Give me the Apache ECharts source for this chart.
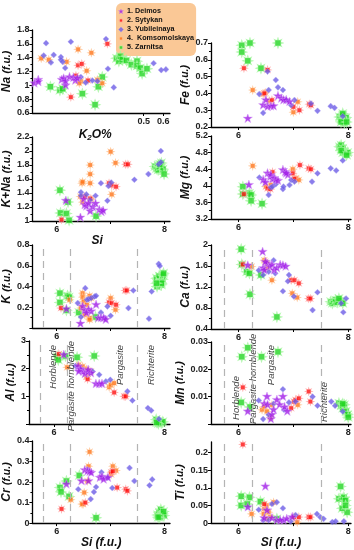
<!DOCTYPE html>
<html><head><meta charset="utf-8">
<script src="https://cdn.jsdelivr.net/npm/echarts@6/dist/echarts.min.js"></script>
<style>html,body{margin:0;padding:0;background:#fff}#c{width:354px;height:550px}</style>
</head><body><div id="c"></div>
<script>
// ---------------- DATA ----------------
const siteNames = ['1. Deimos', '2. Sytykan', '3. Yubileinaya', '4.  Komsomolskaya', '5. Zarnitsa'];
const boundaries = [5.75, 6.25, 7.5];
const classNames = ['Horblende', 'Pargasite hornblende', 'Pargasite', 'Richterite'];
const alLabelPos = [[5.99, 2.86], [6.32, 3.0], [7.2, 2.86], [7.76, 2.86]];
const mnLabelPos = [[5.96, 0.0015], [6.28, 0.0], [6.6, 0.0142], [7.57, 0.0007]];
const k2oLabels = [0.5, 0.6];
const siLabels = [6, 8];
const siTicks = [6, 7, 8];
const tiLabels = [0, 0.05, 0.1, 0.15, 0.2];

// Na vs K2O%
const naDei = [[-0.06,1.03],[-0.04,1.08],[-0.04,1.05],[0.08,1.08],[0.09,1.10],[0.10,1.00],[0.10,1.06],[0.12,1.12],[0.14,1.11],[0.15,1.07],[0.16,1.10]];
const naSyt = [[0.127,0.83],[0.153,1.14],[0.164,1.29],[0.183,1.31],[0.215,1.07],[0.314,1.6]];
const naYub = [[0.0,1.61],[-0.012,1.43],[0.025,1.33],[0.039,1.44],[0.076,1.41],[0.076,1.37],[0.085,1.34],[0.098,1.25],[0.127,1.63],[0.178,1.12],[0.203,1.04],[0.237,1.07],[0.263,1.06],[0.307,1.67],[0.317,1.24],[0.347,0.97],[0.551,1.32],[0.590,1.22],[0.614,1.23]];
const naKom = [[-0.025,1.39],[0.014,1.37],[0.105,1.34],[0.164,1.52],[0.178,1.06],[0.208,1.21],[0.232,1.47],[0.263,1.08],[0.288,1.03],[0.17,1.03]];
const naZar = [[0.022,0.98],[0.071,0.93],[0.085,0.95],[0.186,0.88],[0.251,0.72],[0.268,0.98],[0.288,1.12],[0.361,1.39],[0.373,1.35],[0.381,1.42],[0.390,1.37],[0.412,1.36],[0.437,1.30],[0.466,1.35],[0.466,1.28],[0.483,1.25],[0.492,1.17],[0.517,1.24]];

// Fe vs Si
const feDei = [[6.17,0.25],[6.45,0.33],[6.50,0.36],[6.53,0.32],[6.59,0.324],[6.64,0.324],[6.72,0.384],[6.78,0.37],[6.82,0.36],[6.87,0.36],[6.93,0.35]];
const feSyt = [[6.10,0.55],[6.53,0.54],[6.47,0.40],[6.61,0.36],[7.00,0.32],[7.11,0.30],[7.29,0.336],[7.32,0.33]];
const feYub = [[6.38,0.396],[6.53,0.53],[6.55,0.42],[6.45,0.284],[6.68,0.48],[6.72,0.436],[6.81,0.42],[6.87,0.36],[6.96,0.33],[7.02,0.36],[7.32,0.34],[7.44,0.296],[7.68,0.324],[7.75,0.314],[7.90,0.264]];
const feKom = [[6.26,0.42],[6.45,0.396],[6.49,0.404],[6.56,0.356],[7.00,0.288],[7.08,0.35]];
const feZar = [[6.06,0.686],[6.06,0.646],[6.21,0.70],[6.17,0.594],[6.41,0.55],[6.72,0.70],[7.84,0.26],[7.87,0.244],[7.90,0.27],[7.93,0.24],[7.96,0.256],[7.93,0.224],[7.87,0.23],[7.97,0.23],[7.90,0.28]];

// K+Na vs Si
const knaDei = [[6.17,1.29],[6.44,1.05],[6.50,1.31],[6.52,1.23],[6.55,1.21],[6.59,1.25],[6.62,1.14],[6.67,1.20],[6.72,1.25],[6.79,1.16],[6.83,1.13],[6.86,1.15]];
const knaSyt = [[6.09,1.02],[6.52,1.35],[6.62,1.32],[6.97,1.54],[7.02,1.51],[7.10,1.49],[7.28,1.81],[7.32,1.81]];
const knaYub = [[6.45,1.41],[6.45,1.36],[6.55,1.38],[6.62,1.30],[6.72,1.36],[6.82,1.54],[6.94,1.29],[6.96,1.50],[7.01,1.55],[7.44,1.59],[7.70,1.67],[7.89,1.81],[7.93,2.00],[7.93,1.84]];
const knaKom = [[6.44,1.35],[6.47,1.54],[6.48,1.56],[6.62,1.80],[6.62,1.67],[6.62,1.54],[6.64,1.31],[7.00,1.99],[7.02,1.38],[7.09,1.83],[6.48,1.27]];
const knaZar = [[6.06,1.44],[6.07,1.115],[6.18,1.106],[6.21,1.27],[6.23,1.01],[6.73,1.07],[7.82,1.78],[7.85,1.75],[7.88,1.79],[7.88,1.73],[7.91,1.77],[7.94,1.83],[7.97,1.74],[7.99,1.67],[7.91,1.81]];

// Mg vs Si
const mgDei = [[6.19,4.02],[6.45,4.14],[6.49,4.08],[6.53,4.30],[6.58,4.22],[6.59,4.26],[6.62,4.16],[6.65,4.18],[6.68,4.14],[6.72,4.12],[6.81,4.38],[6.85,4.33],[6.90,4.26],[6.87,4.30]];
const mgSyt = [[6.10,3.80],[6.62,4.33],[6.53,3.94],[6.58,3.92],[6.99,4.30],[7.02,4.17],[7.12,4.50],[7.28,4.42],[7.32,4.40]];
const mgYub = [[6.38,4.20],[6.55,3.78],[6.59,3.96],[6.62,3.98],[6.68,4.04],[6.81,3.92],[6.82,3.98],[6.93,4.02],[6.96,4.14],[7.02,4.10],[7.34,4.10],[7.44,4.30],[7.68,4.42],[7.78,4.37],[7.90,4.61]];
const mgKom = [[6.26,4.48],[6.50,3.98],[6.59,4.02],[6.99,4.40],[7.05,4.18],[7.10,4.14]];
const mgZar = [[6.08,3.98],[6.08,3.80],[6.20,3.82],[6.23,3.78],[6.23,3.64],[6.43,3.57],[7.84,4.94],[7.87,4.98],[7.90,4.90],[7.93,4.82],[7.96,4.77],[7.99,4.80],[7.90,4.80],[7.87,4.85],[7.97,4.74]];

// K vs Si
const kDei = [[6.18,0.182],[6.44,0.042],[6.48,0.208],[6.52,0.17],[6.59,0.176],[6.64,0.16],[6.73,0.224],[6.77,0.096],[6.82,0.096],[6.87,0.096],[6.91,0.08],[6.55,0.144]];
const kSyt = [[6.08,0.192],[6.97,0.246],[7.02,0.240],[7.10,0.224],[7.27,0.362],[7.30,0.362]];
const kYub = [[6.39,0.24],[6.45,0.106],[6.53,0.384],[6.56,0.272],[6.59,0.278],[6.64,0.288],[6.70,0.304],[6.73,0.31],[6.82,0.15],[6.94,0.208],[7.00,0.118],[6.89,0.096],[7.33,0.192],[7.42,0.362],[7.71,0.09],[7.76,0.352],[7.89,0.618],[7.91,0.598]];
const kKom = [[6.24,0.272],[6.48,0.336],[6.48,0.298],[6.50,0.256],[6.52,0.128],[6.61,0.096],[6.61,0.08],[6.56,0.224],[6.61,0.31],[6.64,0.288],[7.00,0.288],[7.09,0.176],[6.45,0.192]];
const kZar = [[6.06,0.336],[6.06,0.246],[6.20,0.310],[6.23,0.298],[6.18,0.170],[6.41,0.150],[6.72,0.106],[7.85,0.48],[7.86,0.40],[7.90,0.50],[7.91,0.448],[7.94,0.416],[7.96,0.47],[7.97,0.512],[7.98,0.528],[7.94,0.432],[7.85,0.432]];

// Ca vs Si
const caDei = [[6.44,1.87],[6.17,1.61],[6.45,1.56],[6.47,1.52],[6.52,1.65],[6.57,1.59],[6.61,1.62],[6.65,1.52],[6.70,1.56],[6.76,1.62],[6.81,1.61],[6.86,1.59],[6.49,1.68]];
const caSyt = [[6.08,1.63],[6.96,1.33],[7.02,1.33],[7.10,1.27],[7.28,0.98],[7.31,0.98]];
const caYub = [[6.37,1.52],[6.45,1.43],[6.55,1.49],[6.64,1.71],[6.67,1.46],[6.81,1.12],[6.92,1.43],[6.90,1.31],[7.01,1.02],[7.35,0.76],[7.44,1.10],[7.87,0.89],[7.91,0.72],[7.96,0.98]];
const caKom = [[6.24,1.59],[6.47,1.71],[6.49,1.68],[6.52,1.65],[6.61,1.33],[6.98,1.08],[7.07,1.00],[6.53,1.56]];
const caZar = [[6.05,1.92],[6.06,1.63],[6.15,1.49],[6.20,1.46],[6.21,1.06],[6.41,1.43],[6.70,0.63],[7.68,0.92],[7.71,0.89],[7.74,0.92],[7.77,0.95],[7.80,0.91],[7.87,0.94],[7.90,0.89],[7.83,0.98]];

// Al vs Si
const alDei = [[6.18,2.50],[6.44,2.08],[6.48,1.98],[6.53,1.90],[6.56,1.81],[6.61,1.86],[6.67,1.84],[6.76,1.45],[6.82,1.45],[6.87,1.45],[6.45,1.90],[6.62,1.96]];
const alSyt = [[6.09,2.53],[6.61,1.62],[7.09,1.14],[7.27,1.0],[7.30,1.0]];
const alYub = [[6.39,2.10],[6.50,1.96],[6.70,1.90],[6.82,1.78],[6.94,1.54],[7.02,1.60],[7.33,1.18],[7.42,0.85],[7.70,0.58],[7.76,0.49],[7.90,0.18]];
const alKom = [[6.24,2.05],[6.45,2.14],[6.52,2.08],[6.59,1.98],[6.67,1.90],[7.00,1.33],[7.03,1.42],[7.09,1.48],[6.59,1.72]];
const alZar = [[6.06,2.44],[6.08,2.32],[6.21,2.46],[6.42,2.41],[6.73,2.46],[7.85,0.16],[7.88,0.06],[7.91,0.10],[7.94,0.04],[7.97,0.08],[7.89,0.02],[7.86,0.06]];

// Mn vs Si
const mnDei = [[6.17,0.0046],[6.47,0.0074],[6.52,0.010],[6.53,0.007],[6.59,0.0018],[6.61,0.0034],[6.70,0.0088],[6.75,0.007],[6.81,0.010],[6.84,0.0062],[6.89,0.0046],[6.64,0.0052]];
const mnSyt = [[6.08,0.0134],[7.01,0.0082],[7.04,0.0088],[7.10,0.0094],[7.28,0.0119],[7.31,0.0082],[6.96,0.0058]];
const mnYub = [[6.37,0.0086],[6.45,0.0018],[6.55,0.0034],[6.64,0.0074],[6.81,0.0127],[6.83,0.0052],[6.92,0.0079],[7.04,0.0082],[7.35,0.010],[7.44,0.0067],[7.69,0.0082],[7.76,0.0067],[7.90,0.0046]];
const mnKom = [[6.43,0.0052],[6.47,0.0064],[6.52,0.0046],[6.61,0.007],[7.08,0.007],[6.58,0.0025]];
const mnZar = [[6.17,0.0279],[6.06,0.0246],[6.42,0.0246],[6.72,0.0264],[6.05,0.0079],[6.21,0.0062],[7.83,0.0076],[7.87,0.0067],[7.90,0.0058],[7.93,0.007],[7.96,0.0046],[7.99,0.0034],[8.0,0.0025],[7.90,0.0074]];

// Cr vs Si
const crDei = [[6.18,0.189],[6.46,0.205],[6.52,0.258],[6.57,0.253],[6.61,0.25],[6.64,0.245],[6.59,0.205],[6.80,0.221],[6.84,0.226],[6.87,0.213],[6.95,0.221]];
const crSyt = [[6.09,0.069],[6.53,0.10],[7.01,0.248],[7.04,0.253],[7.12,0.173],[7.28,0.165],[7.31,0.157]];
const crYub = [[6.40,0.165],[6.57,0.261],[6.63,0.117],[6.69,0.152],[6.73,0.176],[6.83,0.248],[6.94,0.221],[7.03,0.171],[7.35,0.269],[7.44,0.205],[7.72,0.184],[7.77,0.213]];
const crKom = [[6.26,0.114],[6.49,0.093],[6.51,0.149],[6.59,0.277],[6.61,0.347],[6.57,0.205],[6.47,0.093],[7.01,0.237],[7.04,0.277],[7.10,0.256]];
const crZar = [[6.06,0.173],[6.08,0.152],[6.18,0.205],[6.23,0.13],[6.42,0.232],[6.73,0.026],[7.87,0.04],[7.90,0.053],[7.93,0.066],[7.96,0.045],[7.99,0.037],[7.91,0.029],[7.98,0.056],[7.88,0.029]];

// Ti vs Si
const tiDei = [[6.17,0.045],[6.49,0.104],[6.52,0.036],[6.61,0.014],[6.70,0.008],[6.82,0.008],[6.88,0.012],[6.98,0.017],[6.47,0.014],[6.76,0.008]];
const tiSyt = [[6.08,0.223],[6.47,0.054],[7.01,0.017],[7.10,0.017],[7.28,0.017],[7.31,0.017]];
const tiYub = [[6.37,0.038],[6.45,0.008],[6.55,0.008],[6.70,0.059],[6.81,0.042],[6.82,0.008],[6.95,0.005],[7.04,0.023],[7.43,0.026],[7.49,0.017],[7.55,0.012],[7.71,0.003],[7.77,0.005],[7.92,0.005],[6.61,0.054]];
const tiKom = [[6.24,0.026],[6.47,0.04],[6.46,0.026],[6.51,0.05],[6.55,0.031],[6.58,0.017],[6.64,0.059],[6.52,0.012],[7.07,0.003]];
const tiZar = [[6.05,0.076],[6.05,0.05],[6.20,0.073],[6.16,0.054],[6.40,0.061],[6.70,0.012],[7.86,0.104],[7.83,0.069],[7.89,0.069],[7.92,0.073],[7.95,0.064],[7.89,0.042],[7.98,0.031],[7.95,0.05]];

// ---------------- BUILD ----------------
// per panel: [Deimos, Sytykan, Yubileinaya, Komsomolskaya, Zarnitsa]
const panelData = [
  [naDei, naSyt, naYub, naKom, naZar],
  [feDei, feSyt, feYub, feKom, feZar],
  [knaDei, knaSyt, knaYub, knaKom, knaZar],
  [mgDei, mgSyt, mgYub, mgKom, mgZar],
  [kDei, kSyt, kYub, kKom, kZar],
  [caDei, caSyt, caYub, caKom, caZar],
  [alDei, alSyt, alYub, alKom, alZar],
  [mnDei, mnSyt, mnYub, mnKom, mnZar],
  [crDei, crSyt, crYub, crKom, crZar],
  [tiDei, tiSyt, tiYub, tiKom, tiZar]
];

function starPts(n, ro, ri, c) {
  const p = [];
  for (let i = 0; i < 2 * n; i++) {
    const r = i % 2 ? ri : ro;
    const a = Math.PI * i / n - Math.PI / 2;
    p.push((c + r * Math.cos(a)).toFixed(2) + ',' + (c + r * Math.sin(a)).toFixed(2));
  }
  return p.join(' ');
}
function svgUri(inner) {
  return 'image://data:image/svg+xml;charset=utf-8,' + encodeURIComponent(
    '<svg xmlns="http://www.w3.org/2000/svg" width="24" height="24" viewBox="0 0 24 24">' + inner + '</svg>');
}
const symDei = svgUri('<polygon points="' + starPts(5, 12, 4.8, 12) + '" fill="#a11de8" stroke="#d6a2f7" stroke-width="1.2"/>');
const symSyt = svgUri('<polygon points="' + starPts(8, 12, 5.5, 12) + '" fill="#ff9d9d"/><rect x="7.5" y="7.5" width="9" height="9" fill="#ff0f0f"/>');
const symYub = svgUri('<polygon points="12,1.5 22.5,12 12,22.5 1.5,12" fill="#6d5de6" stroke="#aea6f4" stroke-width="1.5"/>');
const symKom = svgUri('<polygon points="' + starPts(8, 12, 5.5, 12) + '" fill="#ffbe8a"/><rect x="7.5" y="7.5" width="9" height="9" fill="#ff7418"/>');
const symZar = svgUri('<polygon points="' + starPts(8, 12, 6, 12) + '" fill="#a5f5a0"/><rect x="7" y="7" width="10" height="10" fill="#22d622"/>');
const symbols = [symDei, symSyt, symYub, symKom, symZar];
const sizes = [10, 10, 7, 10, 13];
const drawOrder = [4, 3, 1, 2, 0];

const FONT = 'Liberation Sans, Arial, sans-serif';
const grids = [
  {left: 29, top: 30, width: 141, height: 83},
  {left: 211, top: 43, width: 140, height: 84},
  {left: 29, top: 137, width: 141, height: 84},
  {left: 211, top: 136, width: 140, height: 83},
  {left: 29, top: 245, width: 141, height: 83},
  {left: 211, top: 245, width: 140, height: 84},
  {left: 29, top: 341, width: 141, height: 83},
  {left: 211, top: 342, width: 140, height: 82},
  {left: 29, top: 441, width: 141, height: 83},
  {left: 211, top: 442, width: 140, height: 82}
];
const yCfg = [
  {min: 0.6, max: 1.8, interval: 0.2, name: 'Na', gap: 15},
  {min: 0.2, max: 0.7, interval: 0.1, name: 'Fe', gap: 13},
  {min: 1, max: 2.2, interval: 0.2, name: 'K+Na', gap: 14},
  {min: 3.2, max: 5.2, interval: 0.4, name: 'Mg', gap: 16},
  {min: 0, max: 0.8, interval: 0.2, name: 'K', gap: 12, hideMin: true},
  {min: 0.4, max: 2, interval: 0.4, name: 'Ca', gap: 17},
  {min: 0, max: 3, interval: 1, name: 'Al', gap: 11, hideMin: true},
  {min: 0, max: 0.03, interval: 0.01, name: 'Mn', gap: 18, hideMin: true},
  {min: 0, max: 0.4, interval: 0.1, name: 'Cr', gap: 13},
  {min: 0, max: 0.23, custom: tiLabels, name: 'Ti', gap: 18}
];
const axisLineStyle = {show: true, onZero: false, lineStyle: {color: '#000', width: 1.3}};
const labelStyle = {fontSize: 9, fontWeight: 'bold', color: '#222', fontFamily: FONT};
const nameRich = {
  a: {fontSize: 12, fontWeight: 'bold', fontStyle: 'italic', fontFamily: FONT, color: '#111'},
  b: {fontSize: 10.5, fontWeight: 'bold', fontStyle: 'italic', fontFamily: FONT, color: '#111'},
  s: {fontSize: 8, fontWeight: 'bold', fontStyle: 'italic', fontFamily: FONT, color: '#111', verticalAlign: 'bottom', padding: [6, 0, 0, 0]}
};

const xAxes = grids.map((g, i) => {
  const left = i % 2 === 0;
  const ax = {
    type: 'value', gridIndex: i,
    min: i === 0 ? -0.07 : (left ? 5.55 : 5.5),
    max: i === 0 ? 0.635 : (left ? 8.1 : 8.05),
    axisLine: axisLineStyle,
    splitLine: {show: false},
    axisTick: {show: true, length: 3, lineStyle: {color: '#000', width: 1}, customValues: i === 0 ? k2oLabels : siTicks},
    axisLabel: Object.assign({margin: 4, customValues: i === 0 ? k2oLabels : siLabels}, labelStyle),
    nameLocation: 'middle'
  };
  if (i === 0) { ax.name = '{a|K}{s|2}{a|O%}'; ax.nameGap = 15; ax.nameTextStyle = {rich: nameRich, padding: [0, 12, 0, 0]}; }
  if (i === 2) { ax.name = '{a|Si}'; ax.nameGap = 12; ax.nameTextStyle = {rich: nameRich, padding: [0, 8, 0, 0]}; }
  if (i === 8 || i === 9) { ax.name = '{a|Si (f.u.)}'; ax.nameGap = 13; ax.nameTextStyle = {rich: nameRich}; }
  return ax;
});
const yAxes = yCfg.map((c, i) => {
  const ax = {
    type: 'value', gridIndex: i, min: c.min, max: c.max,
    axisLine: axisLineStyle,
    splitLine: {show: false},
    axisTick: {show: true, length: 3, lineStyle: {color: '#000', width: 1}},
    axisLabel: Object.assign({margin: 3, showMinLabel: !c.hideMin}, labelStyle),
    name: '{a|' + c.name + '} {b|(f.u.)}', nameLocation: 'middle', nameGap: c.gap,
    nameTextStyle: {rich: nameRich}
  };
  if (c.custom) {
    ax.axisLabel.customValues = c.custom;
    ax.axisTick.customValues = c.custom;
  } else {
    ax.interval = c.interval;
    ax.minorTick = {show: true, splitNumber: 2, length: 2, lineStyle: {color: '#000'}};
  }
  return ax;
});

const series = [];
panelData.forEach((sets, p) => {
  drawOrder.forEach((s, k) => {
    const ser = {
      type: 'scatter', name: siteNames[s], xAxisIndex: p, yAxisIndex: p,
      data: sets[s], symbol: symbols[s], symbolSize: sizes[s],
      emphasis: {disabled: true}, silent: true
    };
    if (k === 0 && p >= 4) {
      ser.markLine = {
        silent: true, symbol: 'none', label: {show: false},
        lineStyle: {type: [7, 5], color: '#b4b4b4', width: 1.2},
        data: boundaries.map(v => ({xAxis: v}))
      };
    }
    series.push(ser);
  });
});
function classSeries(p, pos, align) {
  return {
    type: 'scatter', xAxisIndex: p, yAxisIndex: p, clip: false, silent: true,
    symbolSize: 1, itemStyle: {color: 'rgba(0,0,0,0)'},
    data: pos.map((q, i) => [q[0], q[1], classNames[i]]),
    label: {
      show: true, position: 'inside', rotate: 90, align: align, verticalAlign: 'middle',
      formatter: d => d.data[2],
      fontSize: 9.5, fontStyle: 'italic', color: '#111', fontFamily: FONT
    }
  };
}
series.push(classSeries(6, alLabelPos, 'right'));
series.push(classSeries(7, mnLabelPos, 'left'));

const chart = echarts.init(document.getElementById('c'), null, {renderer: 'canvas'});
chart.setOption({
  animation: false,
  textStyle: {fontFamily: FONT},
  grid: grids,
  xAxis: xAxes,
  yAxis: yAxes,
  legend: {
    data: siteNames, orient: 'vertical', left: 116, top: 3, z: -1,
    itemWidth: 6, itemHeight: 6, itemGap: 2,
    padding: [5, 2, 5, 2],
    backgroundColor: '#fac896', borderRadius: 6,
    textStyle: {fontSize: 7.2, fontWeight: 'bold', color: '#111', fontFamily: FONT, padding: [0, 0, 0, -2]},
    selectedMode: false
  },
  series: series
});
</script></body></html>
